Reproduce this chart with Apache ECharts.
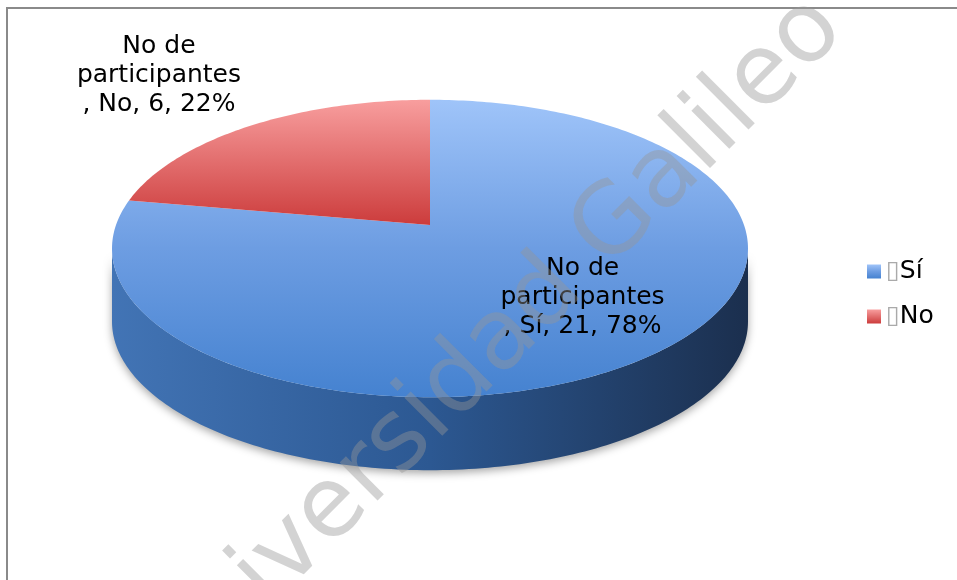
<!DOCTYPE html>
<html>
<head>
<meta charset="utf-8">
<script src="https://cdn.jsdelivr.net/npm/echarts@6/dist/echarts.min.js"></script>
<style>
html,body{margin:0;padding:0;background:#fff;}
#chart{width:957px;height:580px;}
</style>
</head>
<body>
<div id="chart"></div>
<script>
// ---- data ----
const categories = ['Sí', 'No'];
const values = [21, 6];
const seriesTitleLines = ['No de', 'participantes'];
const watermarkText = 'Universidad Galileo';

// ---- styling / layout ----
const FONT = "'Century Gothic', 'DejaVu Sans', sans-serif";
const GEO = { cx: 430, cy: 225, R: 314, K: 145, p: 0.158, D: 73 };
const topStops = [
  [{offset: 0, color: '#9fc4f9'}, {offset: 0.5, color: '#6d9de2'}, {offset: 1, color: '#4582d0'}],
  [{offset: 0, color: '#f89e9e'}, {offset: 1, color: '#cc3c3c'}]
];
const sideStops = [
  [{offset: 0, color: '#4274b5'}, {offset: 0.5, color: '#2c5892'}, {offset: 1, color: '#1b2f4e'}],
  [{offset: 0, color: '#c05050'}, {offset: 1, color: '#6a1e1e'}]
];
// label placement: radius factor relative to rim, plus pixel offset
const labelPlace = [
  { r: 0.68, dx: 3, dy: -10 },
  { r: 1.0, dx: -91, dy: -50 }
];

const total = values.reduce((a, b) => a + b, 0);
const starts = [];
{ let c = 0; values.forEach(v => { starts.push(c / total * Math.PI * 2); c += v; }); }

function proj(theta, r, dy) {
  const X = Math.sin(theta) * r, Z = -Math.cos(theta) * r;
  const s = 1 / (1 - GEO.p * Z);
  return [GEO.cx + GEO.R * X * s, GEO.cy + GEO.K * Z * s + (dy || 0)];
}
function arc(a0, a1, dy) {
  const pts = [];
  const n = Math.max(2, Math.ceil((a1 - a0) / (Math.PI / 180)));
  for (let k = 0; k <= n; k++) pts.push(proj(a0 + (a1 - a0) * k / n, 1, dy));
  return pts;
}

function renderSlice(i) {
  return function (params, api) {
    const v = api.value(0);
    const a0 = starts[i];
    const a1 = a0 + v / total * Math.PI * 2;
    const children = [];
    const tR = Math.acos(-GEO.p), tL = Math.PI * 2 - tR;
    const s0 = Math.max(a0, tR), s1 = Math.min(a1, tL);
    if (s1 > s0) {
      const topArc = arc(s0, s1, 0);
      const botArc = arc(s0, s1, GEO.D).reverse();
      children.push({
        type: 'polygon', z2: 1,
        shape: { points: topArc.concat(botArc) },
        style: {
          fill: new echarts.graphic.LinearGradient(0, 0, 1, 0, sideStops[i]),
          shadowBlur: 8, shadowOffsetY: 3, shadowColor: 'rgba(0,0,0,0.35)'
        }
      });
    }
    const pts = [[GEO.cx, GEO.cy]].concat(arc(a0, a1, 0));
    children.push({
      type: 'polygon', z2: 10,
      shape: { points: pts },
      style: { fill: new echarts.graphic.LinearGradient(0, 0, 0, 1, topStops[i]) }
    });
    const mid = (a0 + a1) / 2;
    const lp = proj(mid, labelPlace[i].r, 0);
    const pct = Math.round(v / total * 100);
    children.push({
      type: 'text', z2: 20,
      x: lp[0] + labelPlace[i].dx, y: lp[1] + labelPlace[i].dy,
      style: {
        text: seriesTitleLines.join('\n') + '\n, ' + categories[i] + ', ' + v + ', ' + pct + '%',
        fill: '#000', font: '25px ' + FONT, lineHeight: 29,
        align: 'center', verticalAlign: 'middle'
      }
    });
    return { type: 'group', children: children };
  };
}

const chart = echarts.init(document.getElementById('chart'), null, { renderer: 'canvas' });
chart.setOption({
  animation: false,
  backgroundColor: '#fff',
  legend: {
    orient: 'vertical', left: 862, top: 254,
    itemWidth: 14, itemHeight: 14, itemGap: 20, icon: 'rect',
    data: categories,
    formatter: name => '{b|\u25AF}' + name,
    textStyle: {
      fontSize: 25, fontFamily: FONT, color: '#000',
      rich: { b: { fontSize: 25, fontFamily: FONT, color: '#aaa' } }
    }
  },
  graphic: [
    { type: 'rect', z: 0, shape: { x: 7, y: 8, width: 980, height: 620 },
      style: { fill: 'none', stroke: '#8a8a8a', lineWidth: 2 } },
    { type: 'text', z: 100, x: 492, y: 350, rotation: 45 * Math.PI / 180,
      style: { text: watermarkText, font: '98px ' + FONT, fill: 'rgba(150,150,150,0.42)',
               align: 'center', verticalAlign: 'middle' } }
  ],
  series: categories.map((name, i) => ({
    type: 'custom', name: name, coordinateSystem: 'none',
    itemStyle: { color: new echarts.graphic.LinearGradient(0, 0, 0, 1, topStops[i]) },
    data: [[values[i]]],
    renderItem: renderSlice(i)
  }))
});
</script>
</body>
</html>
